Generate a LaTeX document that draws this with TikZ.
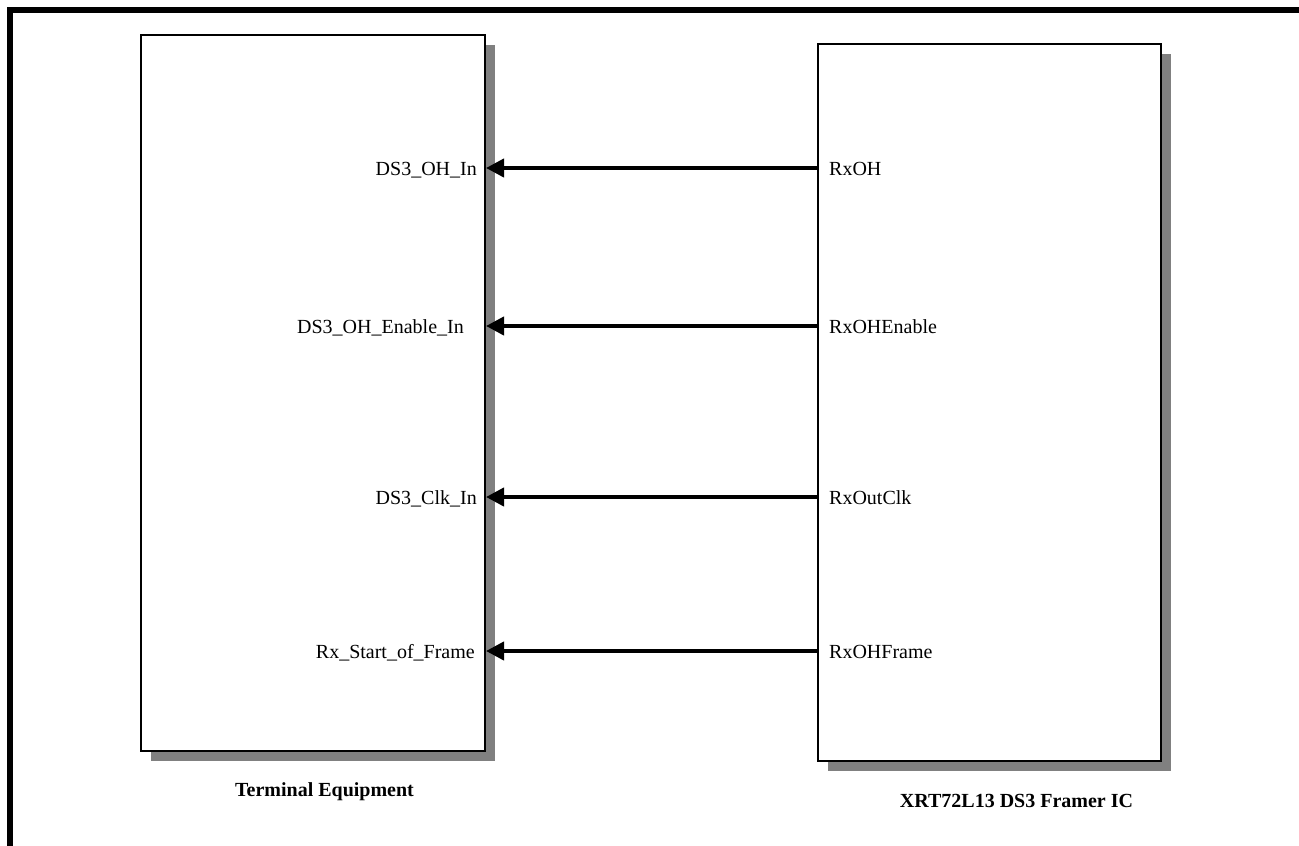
\documentclass[tikz,border=0pt]{standalone}
\usepackage{fontspec}
\setmainfont{Liberation Serif}
\usetikzlibrary{arrows.meta}
\begin{document}
\begin{tikzpicture}[x=1pt,y=-1pt,
  shadowbox/.style={fill={rgb,255:red,128;green,128;blue,128}, draw=none},
  chipbox/.style={draw=black, fill=white, line width=1.5pt},
  sig/.style={line width=4pt, -{Triangle[length=18pt,width=18pt]}, shorten >=0pt},
  lbl/.style={font=\fontsize{20}{24}\selectfont, inner sep=0pt},
  title/.style={font=\fontsize{20}{24}\selectfont\bfseries, inner sep=0pt}]
\useasboundingbox (0,0) rectangle (1299,846);
% frame (top and left)
\draw[line width=6pt] (10,846) -- (10,10) -- (1299,10);
% left box
\fill[shadowbox] (151,45) rectangle (495,761);
\draw[chipbox] (141,35) rectangle (485,751);
% right box
\fill[shadowbox] (828,54) rectangle (1171,771);
\draw[chipbox] (818,44) rectangle (1161,761);
% connection points
\coordinate (l1) at (486,168);
\coordinate (l2) at (486,326);
\coordinate (l3) at (486,497);
\coordinate (l4) at (486,651);
\coordinate (r1) at (818,168);
\coordinate (r2) at (818,326);
\coordinate (r3) at (818,497);
\coordinate (r4) at (818,651);
\draw[sig] (r1) -- (l1);
\draw[sig] (r2) -- (l2);
\draw[sig] (r3) -- (l3);
\draw[sig] (r4) -- (l4);
% left labels
\node[lbl, anchor=base east] (tl1) at (477,175) {DS3\_OH\_In};
\node[lbl, anchor=base east] (tl2) at (464,333) {DS3\_OH\_Enable\_In};
\node[lbl, anchor=base east] (tl3) at (477,504) {DS3\_Clk\_In};
\node[lbl, anchor=base east] (tl4) at (475,658) {Rx\_Start\_of\_Frame};
% right labels
\node[lbl, anchor=base west] (tr1) at (829,175) {RxOH};
\node[lbl, anchor=base west] (tr2) at (829,333) {RxOHEnable};
\node[lbl, anchor=base west] (tr3) at (829,504) {RxOutClk};
\node[lbl, anchor=base west] (tr4) at (829,658) {RxOHFrame};
% titles
\node[title, anchor=base] (t1) at (324.5,796) {Terminal Equipment};
\node[title, anchor=base] (t2) at (1016.5,807) {XRT72L13 DS3 Framer IC};
\end{tikzpicture}
\end{document}
